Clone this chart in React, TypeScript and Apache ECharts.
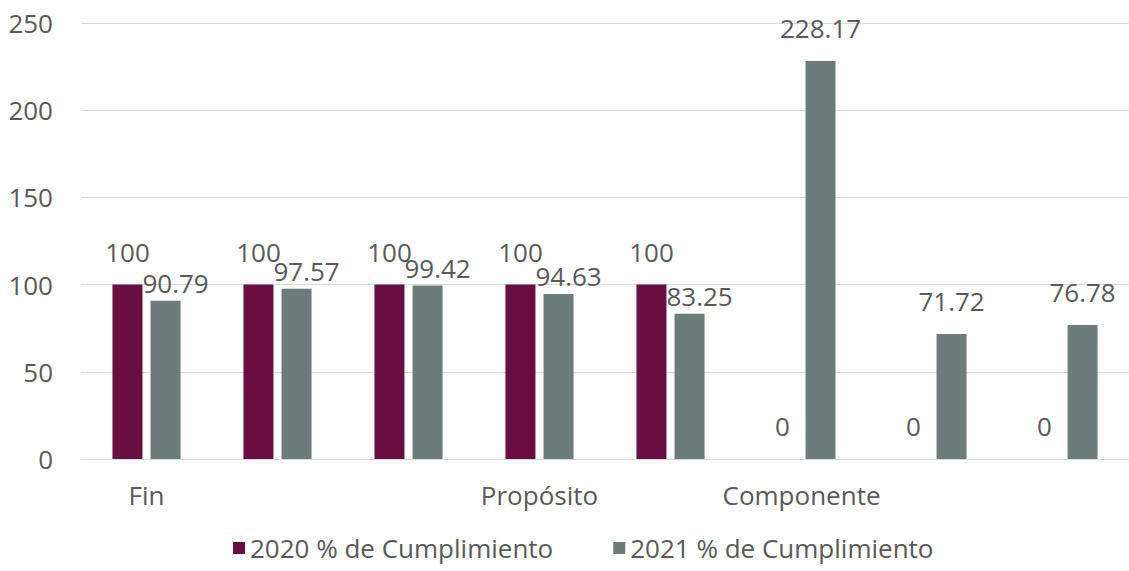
import React, { useEffect, useRef } from "react";
import * as echarts from "echarts";

const categories = ["Fin", "", "", "Propósito", "", "Componente", "", ""];
const values2020 = [100, 100, 100, 100, 100, 0, 0, 0];
const values2021 = [90.79, 97.57, 99.42, 94.63, 83.25, 228.17, 71.72, 76.78];
const seriesNames = ["2020 % de Cumplimiento", "2021 % de Cumplimiento"];
const yTicks = { min: 0, max: 250, interval: 50 };

const FONT = "'Open Sans', 'Noto Sans', sans-serif";
const TEXT = "#595959";

export default function App() {
  const ref = useRef<HTMLDivElement>(null);
  useEffect(() => {
    if (!ref.current) return;
    const chart = echarts.init(ref.current, undefined, { renderer: "svg" });
    const labelBase = {
      show: true,
      position: "top",
      distance: 20,
      color: TEXT,
      fontFamily: FONT,
      fontSize: 26,
    };
    chart.setOption({
      animation: false,
      textStyle: { fontFamily: FONT },
      grid: { left: 81, top: 23, width: 1056, height: 436, containLabel: false },
      legend: {
        left: 233,
        top: 534,
        padding: 0,
        itemWidth: 12,
        itemHeight: 12,
        itemGap: 60,
        icon: "rect",
        textStyle: { color: TEXT, fontSize: 26, lineHeight: 28, fontFamily: FONT },
        data: seriesNames,
      },
      xAxis: {
        type: "category",
        data: categories,
        axisTick: { show: false },
        axisLine: { lineStyle: { color: "#d9d9d9", width: 1 } },
        axisLabel: { color: TEXT, fontSize: 26, fontFamily: FONT, margin: 23, interval: 0 },
      },
      yAxis: {
        type: "value",
        min: yTicks.min,
        max: yTicks.max,
        interval: yTicks.interval,
        axisLine: { show: false },
        axisTick: { show: false },
        splitLine: { lineStyle: { color: "#d9d9d9", width: 1 } },
        axisLabel: { color: TEXT, fontSize: 26, fontFamily: FONT, margin: 28 },
      },
      series: [
        {
          name: seriesNames[0],
          type: "bar",
          barWidth: 30,
          barGap: "27%",
          itemStyle: { color: "#6A0E42" },
          label: labelBase,
          data: values2020,
        },
        {
          name: seriesNames[1],
          type: "bar",
          barWidth: 30,
          itemStyle: { color: "#6B7C7A" },
          label: labelBase,
          data: values2021.map((v, i) =>
            values2020[i] > 0
              ? { value: v, label: { offset: [10, 15] } }
              : { value: v }
          ),
        },
      ],
    });
    return () => chart.dispose();
  }, []);
  return (
    <div
      ref={ref}
      style={{ position: "absolute", left: 0, top: 0, width: 1129, height: 571, background: "#fff" }}
    />
  );
}
